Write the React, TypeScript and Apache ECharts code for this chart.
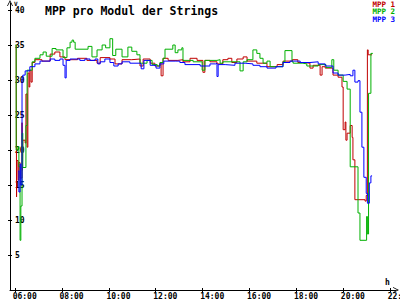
import React, { useEffect, useRef } from "react";
import * as echarts from "echarts";

const seriesNames = ["MPP 1", "MPP 2", "MPP 3"];
const seriesColors = ["#c00000", "#00b000", "#0000ff"];
const xTickHours = [6, 8, 10, 12, 14, 16, 18, 20, 22];
const yTickValues = [5, 10, 15, 20, 25, 30, 35, 40];

const mpp1: [string, number][] = [
  ["06:03", 35], ["06:04", 13.3], ["06:05", 18.5], ["06:08", 15.7], ["06:10", 18.2], ["06:13", 16],
  ["06:18", 23.9], ["06:19", 17.1], ["06:20", 21.4], ["06:26", 21], ["06:28", 28], ["06:31", 20.4],
  ["06:33", 31], ["06:36", 29], ["06:38", 31.4], ["06:41", 29.7], ["06:44", 32.5], ["06:51", 32.9],
  ["07:09", 32.7], ["07:30", 33.7], ["07:42", 34], ["07:55", 33.3], ["08:08", 32.9], ["08:40", 33.1],
  ["09:04", 32.8], ["09:30", 32.4], ["09:38", 33.2], ["10:03", 33], ["10:16", 32.3], ["10:34", 32.9],
  ["10:59", 33], ["11:20", 32], ["11:28", 33], ["11:46", 32.4], ["11:58", 32], ["12:11", 32.4],
  ["12:14", 30.6], ["12:19", 33.1], ["12:32", 32.8], ["12:57", 32.9], ["13:10", 32.6], ["13:28", 33.1],
  ["13:46", 32.8], ["14:01", 31.1], ["14:06", 32.8], ["14:19", 32.6], ["14:37", 32.3], ["14:52", 32.9],
  ["15:05", 33.1], ["15:15", 32.5], ["15:28", 33], ["15:44", 33.3], ["15:54", 32.7], ["16:19", 32.4],
  ["16:45", 31.9], ["17:11", 32.2], ["17:26", 32.7], ["17:50", 32.9], ["18:04", 32.5], ["18:17", 32.4],
  ["18:35", 31.7], ["18:43", 32.1], ["19:01", 30.7], ["19:06", 31.9], ["19:14", 31.7], ["19:34", 30.7],
  ["19:47", 30.4], ["19:57", 29], ["20:00", 22.9], ["20:05", 24], ["20:07", 21.4], ["20:10", 22.4],
  ["20:18", 23.5], ["20:23", 21.8], ["20:25", 18.6], ["20:30", 12.9], ["20:56", 12.7], ["20:59", 13.5],
  ["21:02", 34.3], ["21:04", 33.6], ["21:14", 33.6],
];

const mpp2: [string, number][] = [
  ["06:01", 35], ["06:03", 20], ["06:08", 20.5], ["06:10", 17.6], ["06:13", 7.1], ["06:15", 12],
  ["06:18", 22.4], ["06:20", 17.5], ["06:28", 23.5], ["06:31", 31.4], ["06:44", 32.6], ["06:51", 33.1],
  ["07:04", 33.6], ["07:12", 34], ["07:20", 33.4], ["07:35", 34.5], ["07:45", 34.3], ["08:03", 33.2],
  ["08:13", 34.6], ["08:21", 35.4], ["08:26", 35.7], ["08:30", 35.4], ["08:34", 34.4], ["09:07", 34.8],
  ["09:17", 33.3], ["09:30", 34.3], ["09:43", 35], ["09:52", 34.6], ["10:03", 35.9], ["10:10", 33.5],
  ["10:18", 34.4], ["10:34", 33.3], ["10:49", 34.7], ["10:59", 34.1], ["11:12", 33.6], ["11:20", 32.4],
  ["11:38", 32.8], ["11:51", 32.2], ["12:04", 32], ["12:11", 32.5], ["12:19", 33.1], ["12:24", 34.4],
  ["12:44", 35], ["12:50", 33.9], ["12:57", 34.3], ["13:07", 34.6], ["13:10", 32.8], ["13:36", 32.6],
  ["13:59", 31.4], ["14:06", 32.8], ["14:37", 32.9], ["14:45", 32.4], ["14:52", 32.6], ["15:36", 31.3],
  ["15:44", 32.6], ["15:54", 32.9], ["16:09", 34.3], ["16:19", 33.8], ["16:27", 33.1], ["16:35", 32.4],
  ["16:45", 32.7], ["16:53", 31.9], ["17:26", 32.6], ["17:31", 34.2], ["17:49", 32.6], ["17:52", 32.4],
  ["18:17", 32.3], ["18:27", 32], ["18:56", 32.2], ["19:16", 31.8], ["19:31", 32.9], ["19:36", 31.4],
  ["19:47", 30.7], ["20:00", 29.8], ["20:10", 28.7], ["20:18", 17.6], ["20:38", 11], ["20:43", 7.1],
  ["21:00", 10.5], ["21:02", 8], ["21:05", 28.1], ["21:11", 33.8], ["21:16", 33.8],
];

const mpp3: [string, number][] = [
  ["06:08", 17], ["06:10", 14], ["06:13", 18], ["06:15", 15], ["06:18", 30], ["06:20", 30.7],
  ["06:26", 31.3], ["06:38", 31.9], ["06:51", 32.3], ["07:04", 32.7], ["07:30", 33], ["07:42", 32.8],
  ["07:55", 33], ["08:03", 32.1], ["08:08", 30.3], ["08:11", 32.8], ["08:21", 33], ["08:46", 32.8],
  ["08:59", 33], ["09:12", 32.8], ["09:25", 33], ["09:32", 32.3], ["09:38", 32.6], ["09:50", 33],
  ["10:03", 32.5], ["10:13", 32], ["10:24", 32.3], ["10:34", 32.6], ["10:54", 32.4], ["11:20", 32.3],
  ["11:23", 31.6], ["11:30", 32.8], ["11:46", 32.1], ["12:01", 31.7], ["12:11", 32.3], ["12:21", 32.7],
  ["12:50", 32.7], ["13:02", 32.5], ["13:15", 32.2], ["13:54", 32], ["14:19", 32.3], ["14:34", 32.4],
  ["14:37", 30.5], ["14:40", 32.2], ["14:58", 32.1], ["15:23", 32.4], ["15:49", 32.3], ["16:09", 32.1],
  ["16:27", 31.9], ["16:45", 31.7], ["17:08", 31.9], ["17:26", 32.5], ["17:44", 32.7], ["18:10", 32.5],
  ["18:35", 32.6], ["18:56", 32.3], ["19:14", 32], ["19:34", 31], ["19:47", 30.7], ["20:05", 30.8],
  ["20:18", 30.6], ["20:25", 31.4], ["20:30", 29.7], ["20:38", 29.9], ["20:43", 25.4], ["20:48", 20.4],
  ["20:53", 16.1], ["20:59", 13.8], ["21:02", 12.4], ["21:07", 15.3], ["21:11", 16.3], ["21:14", 16.3],
];

const allSeries = [mpp1, mpp2, mpp3];

const toHours = (t: string) => {
  const [h, m] = t.split(":").map(Number);
  return h + m / 60;
};

const FONT = "DejaVu Sans Mono";
const X_MIN = 5.787;
const X_MAX = 22.254;
const Y_MAX = 41.0;
const ARROW = "path://M0,10 L5,0 L10,10 L8.6,10 L5,3 L1.4,10 Z";

export default function App() {
  const ref = useRef<HTMLDivElement>(null);
  useEffect(() => {
    const chart = echarts.init(ref.current!, undefined, { renderer: "svg" });
    const labelStyle = { fontFamily: FONT, fontSize: 8, fontWeight: "bold" as const, color: "#000" };
    chart.setOption({
      animation: false,
      backgroundColor: "#fff",
      title: {
        text: "MPP pro Modul der Strings",
        left: 40,
        top: 0,
        textStyle: { fontFamily: FONT, fontSize: 11.5, fontWeight: "bold", color: "#000" },
      },
      grid: { left: 10, right: 4, top: 3, bottom: 10, outerBoundsMode: "none", containLabel: false },
      xAxis: [
        {
          type: "value",
          min: X_MIN,
          max: X_MAX,
          axisLine: { show: true, onZero: false, symbol: ["none", ARROW], symbolSize: [6, 6], lineStyle: { color: "#000", width: 1 } },
          axisTick: { show: true, length: 2, customValues: xTickHours, lineStyle: { color: "#000" } },
          axisLabel: {
            ...labelStyle,
            customValues: xTickHours.map((h) => h - 0.1),
            align: "left",
            margin: 2,
            formatter: (v: number) => {
              const h = Math.round(v);
              return (h < 10 ? "0" : "") + h + ":00";
            },
          },
          splitLine: { show: false },
        },
        {
          type: "value",
          min: X_MIN,
          max: X_MAX,
          position: "bottom",
          axisLine: { show: false, onZero: false },
          axisTick: { show: true, inside: true, length: 2, customValues: xTickHours, lineStyle: { color: "#000" } },
          axisLabel: { show: false },
          splitLine: { show: false },
        },
      ],
      yAxis: [
        {
          type: "value",
          min: 0,
          max: Y_MAX,
          axisLine: { show: true, onZero: false, symbol: ["none", ARROW], symbolSize: [6, 6], lineStyle: { color: "#000", width: 1 } },
          axisTick: { show: true, length: 2, customValues: yTickValues, lineStyle: { color: "#000" } },
          axisLabel: { ...labelStyle, inside: true, margin: 5, customValues: yTickValues },
          splitLine: { show: false },
        },
        {
          type: "value",
          min: 0,
          max: Y_MAX,
          position: "left",
          axisLine: { show: false, onZero: false },
          axisTick: { show: true, inside: true, length: 2, customValues: yTickValues, lineStyle: { color: "#000" } },
          axisLabel: { show: false },
          splitLine: { show: false },
        },
      ],
      graphic: [
        { type: "text", left: 14, top: 0, style: { text: "V", font: `bold 6px "${FONT}"`, lineHeight: 6, fill: "#000" } },
        { type: "text", left: 385, top: 278, style: { text: "h", font: `bold 8px "${FONT}"`, lineHeight: 8, fill: "#000" } },
        ...seriesNames.map((n, i) => ({
          type: "text",
          right: 5,
          top: i * 7.5,
          style: { text: n, font: `bold 7.5px "${FONT}"`, lineHeight: 7.5, fill: seriesColors[i] },
        })),
      ],
      series: allSeries.map((d, i) => ({
        type: "line",
        name: seriesNames[i],
        step: "end",
        showSymbol: false,
        silent: true,
        xAxisIndex: 0,
        yAxisIndex: 0,
        lineStyle: { color: seriesColors[i], width: 1 },
        itemStyle: { color: seriesColors[i] },
        data: d.map(([t, v]) => [toHours(t), v]),
      })),
    });
    return () => chart.dispose();
  }, []);
  return (
    <div
      ref={ref}
      style={{ position: "absolute", left: 0, top: 0, width: 400, height: 300, background: "#fff" }}
    />
  );
}
